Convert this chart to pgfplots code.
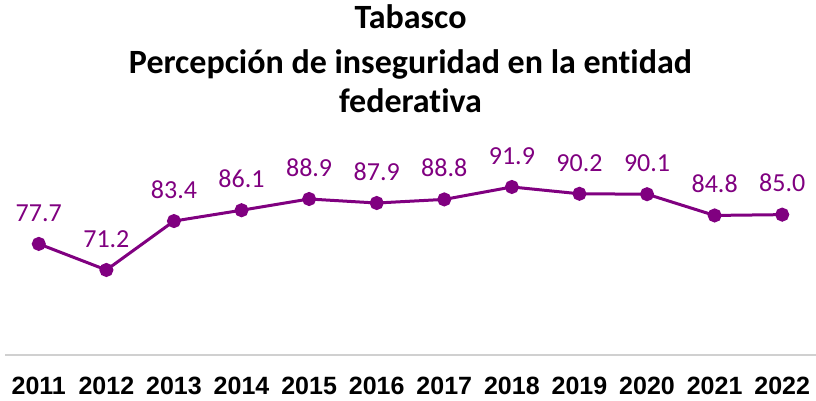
\documentclass[border=0pt]{standalone}
\usepackage{fontspec}
\setmainfont{Carlito}[Ligatures=NoCommon]
\newfontfamily\arialb{Liberation Sans}
\usepackage{pgfplots}
\pgfplotsset{compat=1.18}
\definecolor{lineviolet}{HTML}{800080}
\definecolor{axisgray}{HTML}{D0D0D0}
\begin{document}
\begin{tikzpicture}
\begin{axis}[
  name=main,
  scale only axis,
  width=811pt, height=200.5pt,
  xmin=-0.5, xmax=11.5,
  ymin=50, ymax=100,
  axis x line=bottom,
  axis y line=none,
  axis line style={draw=axisgray, line width=2.5pt, -},
  xtick={0,...,11},
  xticklabels={2011,2012,2013,2014,2015,2016,2017,2018,2019,2020,2021,2022},
  major tick length=0pt,
  xticklabel style={font=\arialb\bfseries\fontsize{25}{30}\selectfont, yshift=-19pt},
  clip=false,
  nodes near coords,
  every node near coord/.append style={font=\fontsize{26}{30}\selectfont, color=lineviolet,
    anchor=south, inner sep=0pt, yshift=21pt},
  point meta=explicit symbolic,
]
\addplot[color=lineviolet, line width=3pt, mark=*, mark size=5.5pt]
  table[meta=label] {
x y label
0 77.7 77.7
1 71.2 71.2
2 83.4 83.4
3 86.1 86.1
4 88.9 88.9
5 87.9 87.9
6 88.8 88.8
7 91.9 91.9
8 90.2 90.2
9 90.1 90.1
10 84.8 84.8
11 85.0 85.0
};
\end{axis}
% title, three lines
\begin{scope}[every node/.style={anchor=base, inner sep=0pt, font=\bfseries\fontsize{34}{40}\selectfont}]
\node at ([yshift=125.5pt]main.north) {Tabasco};
\node at ([yshift=80.5pt]main.north) {Percepción de inseguridad en la entidad};
\node at ([yshift=41.5pt]main.north) {federativa};
\end{scope}
\pgfresetboundingbox
\path ([shift={(-5pt,-46pt)}]main.south west) rectangle ([shift={(0pt,154.5pt)}]main.north east);
\end{tikzpicture}
\end{document}
